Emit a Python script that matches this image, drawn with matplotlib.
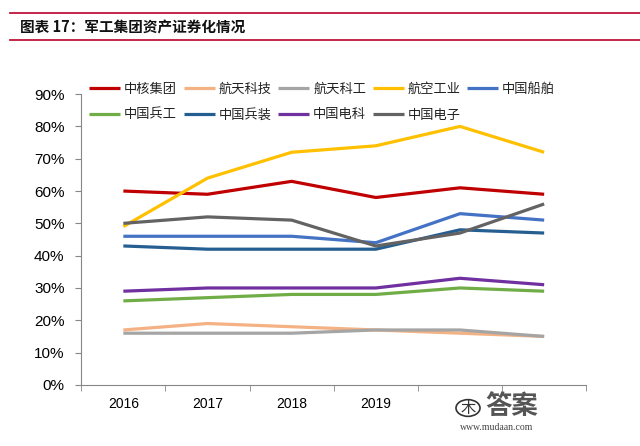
import matplotlib.pyplot as plt
from matplotlib.lines import Line2D
from matplotlib.patches import Circle

plt.rcParams['font.family'] = ['Noto Sans CJK SC', 'DejaVu Sans']

# 横轴类别（最后两个被水印遮住，原图看不到标签）
years = ['2016', '2017', '2018', '2019', '', '']

names = ['中核集团', '航天科技', '航天科工', '航空工业', '中国船舶',
         '中国兵工', '中国兵装', '中国电科', '中国电子']
colors = ['#C00000', '#F4B183', '#A5A5A5', '#FFC000', '#4472C4',
          '#70AD47', '#255E91', '#7030A0', '#636363']

# 资产证券化率（%）
zhonghe = [60, 59, 63, 58, 61, 59]
hangtian_keji = [17, 19, 18, 17, 16, 15]
hangtian_kegong = [16, 16, 16, 17, 17, 15]
hangkong = [49, 64, 72, 74, 80, 72]
chuanbo = [46, 46, 46, 44, 53, 51]
binggong = [26, 27, 28, 28, 30, 29]
bingzhuang = [43, 42, 42, 42, 48, 47]
dianke = [29, 30, 30, 30, 33, 31]
dianzi = [50, 52, 51, 43, 47, 56]

series = [zhonghe, hangtian_keji, hangtian_kegong, hangkong, chuanbo,
          binggong, bingzhuang, dianke, dianzi]

fig = plt.figure(figsize=(6.4, 4.46), dpi=100)
ax = fig.add_axes([0.127, 0.137, 0.789, 0.652])

x = list(range(len(years)))
handles = []
for vals, c, n in zip(series, colors, names):
    h, = ax.plot(x, [v / 100 for v in vals], color=c, lw=2.3, label=n,
                 solid_capstyle='butt')
    handles.append(h)

ax.set_ylim(0, 0.9)
ax.set_yticks([i / 10 for i in range(10)])
ax.set_yticklabels([f'{i * 10}%' for i in range(10)], family='Liberation Sans', fontsize=11)
ax.set_xlim(-0.5, len(years) - 0.5)
ax.set_xticks(x)
ax.set_xticklabels(years, family='Liberation Sans', fontsize=10)
ax.set_xticks([i - 0.5 for i in range(len(years) + 1)], minor=True)
ax.tick_params(axis='x', which='major', length=0, pad=9)
ax.tick_params(axis='x', which='minor', length=4, color='#868686')
ax.tick_params(axis='y', length=4, color='#868686', pad=8)
for s in ['top', 'right']:
    ax.spines[s].set_visible(False)
for s in ['left', 'bottom']:
    ax.spines[s].set_color('#868686')

# 图例按行排列
order = [0, 5, 1, 6, 2, 7, 3, 8, 4]
leg = fig.legend([handles[i] for i in order], [names[i] for i in order],
                 ncol=5, loc='upper left', bbox_to_anchor=(0.139, 0.814),
                 frameon=False, fontsize=9.5, handlelength=2.35,
                 handletextpad=0.3, columnspacing=0.5, labelspacing=0.95,
                 borderpad=0, borderaxespad=0)
for t in leg.get_texts():
    t.set_color('#222222')

# 标题与红线
fig.add_artist(Line2D([0.015, 1.0], [1 - 13 / 446, 1 - 13 / 446], color='#C0143C', lw=1.3))
fig.add_artist(Line2D([0.015, 1.0], [1 - 40 / 446, 1 - 40 / 446], color='#C0143C', lw=1.3))
fig.text(0.032, 1 - 27 / 446, '图表 17：军工集团资产证券化情况', fontsize=10.5,
         fontweight='bold', va='center', ha='left', color='#111111')

# 水印
fig.add_artist(Circle((468 / 640, 1 - 408 / 446), 12 / 640, transform=fig.transFigure,
                      fill=False, ec='#333333', lw=1.2))
fig.text(468 / 640, 1 - 408 / 446, '木', fontsize=11, ha='center', va='center', color='#333333')
fig.text(512 / 640, 1 - 407 / 446, '答案', fontsize=19, fontweight='bold',
         ha='center', va='center', color='#555555')
fig.text(497 / 640, 1 - 428 / 446, 'www.mudaan.com', fontsize=7,
         family='Liberation Serif', ha='center', va='center', color='#444444')

fig.savefig('out.png', dpi=100)
